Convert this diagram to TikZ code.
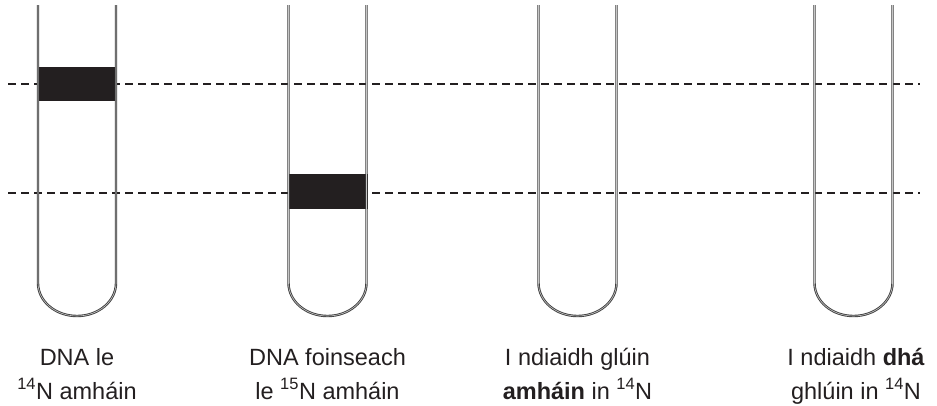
\documentclass[tikz,border=0pt]{standalone}
\usepackage{fontspec}
\setmainfont{Liberation Sans}
\definecolor{ink}{HTML}{231F20}
\begin{document}
\begin{tikzpicture}[x=1pt,y=-1pt,
  tubewall/.style={draw=gray!50!black, line width=0.9pt, double=gray!45, double distance=0.6pt},
  guide/.style={draw=ink, line width=1.3pt, dash pattern=on 8pt off 5pt},
  band/.style={fill=ink, draw=none},
  lbl/.style={align=center, anchor=base, inner sep=0pt, font=\fontsize{23.5}{34}\selectfont, text=ink}]
\useasboundingbox (0,0) rectangle (937,405);
% dashed reference lines
\coordinate (d1a) at (8,84);
\coordinate (d1b) at (920,84);
\coordinate (d2a) at (8,193);
\coordinate (d2b) at (920,193);
\draw[guide] (d1a) -- (d1b);
\draw[guide] (d2a) -- (d2b);
% bands
\fill[band] (37,67) rectangle (117,101);
\fill[band] (288,174) rectangle (368,209);
% tubes
\foreach \cx in {77,327.5,577.5,853.5}{
  \draw[tubewall] (\cx-39,5) -- (\cx-39,283) arc[start angle=180, end angle=0, x radius=39, y radius=33] -- (\cx+39,5);
}
% labels
\node[lbl] (l1) at (77,399) {DNA le\\\textsuperscript{14}N amháin};
\node[lbl] (l2) at (327.5,399) {DNA foinseach\\le \textsuperscript{15}N amháin};
\node[lbl] (l3) at (577.5,399) {I ndiaidh glúin\\\textbf{amháin} in \textsuperscript{14}N};
\node[lbl] (l4) at (856,399) {I ndiaidh \textbf{dhá}\\ghlúin in \textsuperscript{14}N};
\end{tikzpicture}
\end{document}
